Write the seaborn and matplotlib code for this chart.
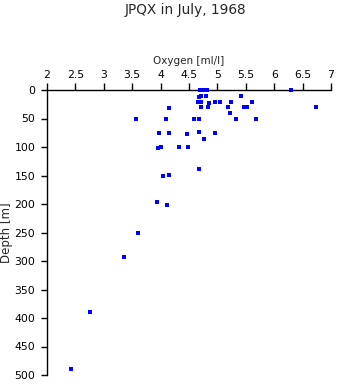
import matplotlib
matplotlib.use("Agg")
import matplotlib.pyplot as plt
import seaborn as sns
import pandas as pd

# Oxygen [ml/l] and depth [m]
oxygen = [4.70, 4.74, 4.78, 4.82, 6.29,
          4.68, 4.71, 4.80, 5.42,
          4.66, 4.72, 4.86, 4.96, 5.05, 5.24, 5.61,
          4.14, 4.71, 4.84, 5.19, 5.46, 5.52, 6.74,
          5.22,
          3.56, 4.10, 4.59, 4.68, 5.33, 5.68,
          3.98, 4.14, 4.47, 4.68, 4.96,
          4.77,
          3.96, 4.01, 4.33, 4.49,
          4.67,
          4.04, 4.14,
          3.94, 4.11,
          3.61, 3.35, 2.76, 2.43]
depth = [0, 0, 0, 0, 0,
         12, 10, 10, 10,
         21, 21, 23, 21, 21, 21, 21,
         32, 30, 30, 30, 30, 30, 30,
         40,
         51, 51, 51, 51, 51, 51,
         76, 76, 77, 74, 76,
         86,
         101, 100, 100, 100,
         139,
         151, 149,
         196, 201,
         251, 293, 389, 489]

x_ticks = [2, 2.5, 3, 3.5, 4, 4.5, 5, 5.5, 6, 6.5, 7]
x_tick_labels = ["2", "2.5", "3", "3.5", "4", "4.5", "5", "5.5", "6", "6.5", "7"]
y_ticks = list(range(0, 501, 50))

df = pd.DataFrame({"Oxygen": oxygen, "Depth": depth})

sns.set_style("white")
plt.rcParams["font.family"] = ["DejaVu Sans"]

fig = plt.figure(figsize=(3.38, 3.84), dpi=100)
ax = fig.add_axes([47 / 338, 1 - 375 / 384, (331 - 47) / 338, (375 - 90) / 384])

sns.scatterplot(data=df, x="Oxygen", y="Depth", ax=ax, color="#0000ff",
                marker="s", s=5.5, linewidth=0, clip_on=False, zorder=5)

ax.set_xlim(2, 7)
ax.set_ylim(500, 0)
ax.xaxis.tick_top()
ax.xaxis.set_label_position("top")
ax.set_xticks(x_ticks)
ax.set_xticklabels(x_tick_labels)
ax.set_yticks(y_ticks)
ax.set_yticklabels([str(v) for v in y_ticks])

for side in ["right", "bottom"]:
    ax.spines[side].set_visible(False)
for side in ["left", "top"]:
    ax.spines[side].set_visible(True)
    ax.spines[side].set_color("black")
    ax.spines[side].set_linewidth(1.0)

ax.tick_params(axis="x", which="both", top=True, bottom=False, direction="out",
               length=5, width=1, pad=2.5, labelsize=7.8, colors="black")
ax.tick_params(axis="y", which="both", left=True, right=False, direction="out",
               length=4.5, width=1, pad=4, labelsize=7.8, colors="black")

ax.set_xlabel("Oxygen [ml/l]", fontsize=7.5, labelpad=4)
ax.set_ylabel("Depth [m]", fontsize=8.5, labelpad=1)
ax.grid(False)

fig.text(186 / 338, 1 - 10 / 384, "JPQX in July, 1968", ha="center", va="center",
         fontsize=9.8)

fig.savefig("out.png", dpi=100)
